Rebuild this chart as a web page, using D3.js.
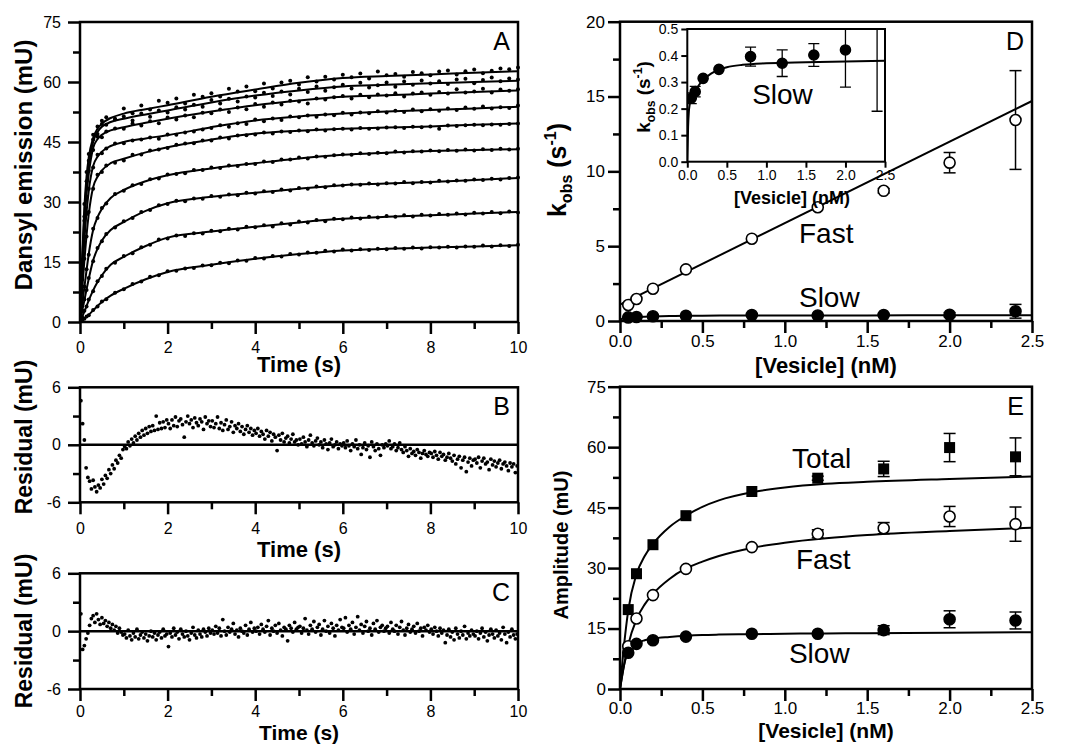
<!DOCTYPE html>
<html>
<head>
<meta charset="utf-8">
<script src="https://cdn.jsdelivr.net/npm/d3@7"></script>
<style>
  body { margin: 0; background: #fff; }
  svg { display: block; }
  text { font-family: "Liberation Sans", Arial, Helvetica, sans-serif; }
</style>
</head>
<body>
<script>
// ---- Panel A: dansyl emission traces (fit curves + data points) ----
const fitTimes = [0, 0.05, 0.1, 0.15, 0.2, 0.3, 0.4, 0.5, 0.7, 1, 1.5, 2, 3, 4, 5, 6, 7, 8, 9, 10];
const fit1 = [0, 16, 28.7, 36.5, 41.2, 46, 48.3, 49.6, 51, 52.1, 53.2, 54.2, 56.3, 58.1, 59.8, 61, 61.5, 61.9, 62.3, 62.7];
const fit2 = [0, 15, 27, 34.5, 39.5, 45, 47.5, 48.8, 50, 50.8, 51.9, 52.9, 54.9, 56.6, 57.9, 58.9, 59.3, 59.7, 60, 60.3];
const fit3 = [0, 13.5, 24.6, 32, 37, 43.5, 45.7, 46.8, 47.9, 48.7, 49.8, 50.8, 52.6, 54.2, 55.4, 56.3, 56.7, 57.1, 57.5, 57.9];
const fit4 = [0, 11, 20.4, 27.5, 32.8, 39, 41.3, 42.6, 44, 45, 45.9, 46.7, 48.7, 50.4, 51.4, 52.1, 52.6, 53, 53.4, 53.8];
const fit5 = [0, 8, 15.4, 21.8, 27, 33.7, 36.3, 37.9, 39.7, 40.8, 42.4, 43.7, 45.6, 47.1, 47.8, 48.3, 48.6, 48.9, 49.3, 49.6];
const fit6 = [0, 4.5, 8.7, 13, 17, 23, 26.2, 28.3, 31, 33, 35.2, 36.7, 38.4, 39.7, 40.9, 41.8, 42.3, 42.75, 43, 43.2];
const fit7 = [0, 2.8, 5.4, 8.2, 10.8, 15.4, 18.3, 20.4, 23, 25, 27.8, 29.7, 31.3, 32.3, 33.3, 34.2, 34.6, 35, 35.5, 36];
const fit8 = [0, 1.3, 2.6, 4, 5.4, 7.9, 10, 11.7, 14.3, 16.3, 19, 21.1, 22.6, 23.8, 24.9, 25.8, 26.3, 26.7, 27.1, 27.5];
const fit9 = [0, 0.4, 0.9, 1.3, 1.8, 2.9, 4, 5, 6.6, 8.3, 10.7, 12.5, 14.3, 15.8, 17, 17.9, 18.3, 18.6, 18.9, 19.2];

const dotTimes = [0.05, 0.1, 0.15, 0.2, 0.3, 0.4, 0.5,
  0.6, 0.8, 1.0, 1.2, 1.4, 1.6, 1.8, 2.0,
  2.2, 2.4, 2.6, 2.8, 3.0, 3.2, 3.4, 3.6,
  3.8, 4.0, 4.2, 4.4, 4.6, 4.8, 5.0, 5.2,
  5.4, 5.6, 5.8, 6.0, 6.2, 6.4, 6.6, 6.8,
  7.0, 7.2, 7.4, 7.6, 7.8, 8.0, 8.2, 8.4,
  8.6, 8.8, 9.0, 9.2, 9.4, 9.6, 9.8, 10.0];
const dots1 = [15.5, 29.5, 37.5, 42, 46.8, 48.9, 50.3,
  51.2, 50.8, 53.4, 52.2, 54.1, 53.1, 55.3, 54.8,
  55.9, 54.6, 56.8, 56.3, 57.2, 56.4, 58.3, 57.6,
  58.9, 57.7, 59.6, 58.4, 59.9, 60.3, 59.4, 61.2,
  60.1, 61.3, 60.6, 61.8, 61.2, 62.1, 60.9, 62.6,
  61.7, 62.0, 61.3, 62.5, 62.2, 61.7, 62.6, 62.9,
  61.9, 62.7, 63.1, 62.2, 62.8, 63.4, 63.2, 63.6];
const dots2 = [14.2, 26.4, 35.2, 40.3, 45.6, 47, 49.5,
  49.3, 50.6, 51.4, 50.4, 52.1, 51.3, 52.9, 52.4,
  53.7, 53.1, 54.3, 53.8, 55.5, 54.6, 55.8, 55.1,
  56.4, 56.1, 57.3, 56.5, 57.6, 56.9, 58.3, 57.5,
  58.9, 57.8, 58.7, 59.3, 58.4, 59.8, 58.6, 59.2,
  59.9, 58.8, 60.1, 59.3, 60.4, 59.6, 60.2, 59.5,
  60.6, 60.8, 59.7, 60.5, 61.1, 60.2, 60.9, 60.6];
const dots3 = [13, 25.3, 31.4, 37.8, 43, 46.3, 46.2,
  47.6, 48.4, 48.3, 49.6, 49.1, 50.2, 49.7, 51.1,
  50.6, 51.6, 51.2, 52.3, 52.2, 53.1, 52.5, 53.6,
  53.2, 54.5, 53.8, 54.9, 54.4, 55.3, 55.1, 54.6,
  55.9, 55.6, 56.2, 56.5, 55.9, 56.8, 56.2, 56.9,
  56.6, 57.2, 56.4, 57.1, 57.4, 56.8, 57.5, 57.1,
  58.2, 57.4, 57.6, 58.3, 57.4, 58.1, 57.8, 58.2];
const dots4 = [10.6, 21, 27, 33.3, 38.6, 41.8, 42.2,
  43.4, 44.6, 44.7, 45.4, 45.6, 46.1, 45.8, 46.9,
  46.8, 47.4, 47.6, 48.1, 48.5, 49.2, 48.8, 49.7,
  49.5, 50.6, 50.2, 50.9, 50.5, 51.4, 51.2, 51.6,
  51.3, 51.9, 51.7, 52.3, 51.9, 52.4, 52.2, 52.7,
  52.4, 52.8, 52.5, 53.1, 52.7, 53.2, 52.8, 53.4,
  53.0, 53.6, 53.3, 53.9, 53.4, 53.7, 53.5, 54.1];
const dots5 = [7.6, 15.8, 21.4, 27.5, 33.3, 36.8, 37.5,
  39.1, 39.8, 40.4, 41.8, 41.9, 42.9, 43.1, 43.5,
  44.3, 44.6, 44.7, 45.4, 45.4, 46.1, 45.9, 46.6,
  46.7, 46.9, 47.4, 47.1, 47.6, 47.5, 47.9, 47.7,
  48.1, 47.9, 48.2, 48.3, 48.1, 48.5, 48.3, 48.4,
  48.6, 48.7, 48.5, 48.8, 48.7, 48.9, 48.3, 49.1,
  49.0, 49.2, 49.3, 49.2, 49.4, 49.3, 49.5, 49.6];
const dots6 = [4.3, 8.9, 13.2, 16.8, 23.3, 26, 28.5,
  29.6, 32, 32.8, 34.2, 34.5, 35.7, 35.9, 36.9,
  37, 37.2, 38, 38, 38.6, 38.5, 39.1, 39,
  39.5, 39.5, 40.1, 40, 40.6, 40.6, 41.1, 40.9,
  41.4, 41.3, 41.7, 41.9, 41.8, 42.2, 42, 42.3,
  42.2, 42.6, 42.4, 42.7, 42.6, 42.9, 42.7, 43,
  42.8, 43.1, 42.9, 43.2, 43, 43.3, 43.1, 43.3];
const dots7 = [2.6, 5.6, 8, 11, 15.2, 18.5, 20.2,
  22, 23.6, 25.2, 26, 27.5, 28, 29.2, 29.5,
  30.3, 30.2, 30.9, 30.8, 31.5, 31.3, 31.9, 31.7,
  32.3, 32.1, 32.7, 32.5, 33.1, 32.9, 33.5, 33.3,
  33.9, 33.7, 34.2, 34.1, 34.4, 34.3, 34.6, 34.4,
  34.7, 34.6, 35, 34.7, 35, 34.9, 35.3, 35.1,
  35.4, 35.3, 35.6, 35.5, 35.8, 35.6, 36, 36.1];
const dots8 = [1.2, 2.8, 3.9, 5.6, 7.7, 10.2, 11.5,
  13.3, 14.8, 16.5, 17.2, 18.7, 19.3, 20.6, 20.9,
  21.6, 21.5, 22.2, 22.1, 22.8, 22.7, 23.3, 23.1,
  23.8, 23.7, 24.2, 23.9, 24.7, 24.4, 25.1, 24.9,
  25.5, 25.2, 25.8, 25.7, 26.1, 25.9, 26.3, 26.1,
  26.5, 26.3, 26.7, 26.4, 26.8, 26.6, 27, 26.8,
  27.1, 26.9, 27.3, 27.1, 27.5, 27.2, 27.6, 27.4];
const dots9 = [0.5, 0.8, 1.4, 1.7, 3, 3.9, 5.1,
  5.7, 7.3, 8.2, 9.5, 10.1, 11.3, 11.7, 12.7,
  12.8, 13.4, 13.5, 14.1, 14.2, 14.8, 14.7, 15.4,
  15.3, 16, 15.9, 16.5, 16.4, 17, 16.9, 17.4,
  17.3, 17.8, 17.6, 18.1, 17.9, 18.2, 18, 18.3,
  18.2, 18.5, 18.3, 18.6, 18.4, 18.7, 18.6, 18.8,
  18.6, 18.9, 18.8, 19.1, 18.9, 19.2, 19, 19.3];

// ---- Panels B and C: residuals, one row per second, sampled every 0.04 s ----
const residStep = 0.04;
const residB = [
  [4.6, 2.2, 0.5, -2.4, -3.4, -3.8, -4.6, -3.7, -4.4, -4.9, -4.2, -4.5, -3.6, -4.1, -3.2, -3.5, -2.6, -3.0, -2.1, -2.5, -1.6, -1.9, -1.1, -1.4, -0.5],
  [-0.2, -0.4, 0.3, -0.1, 0.6, 0.2, 0.9, 0.5, 1.2, 0.8, 1.5, 1.0, 1.7, 1.2, 1.9, 1.4, 2.0, 1.5, 3.0, 1.6, 2.3, 1.7, 2.4, 1.8, 2.6],
  [2.2, 1.7, 2.6, 2.0, 2.9, 1.9, 2.5, 2.7, 2.1, 0.8, 2.4, 3.0, 2.2, 2.6, 1.8, 2.8, 2.3, 2.0, 2.7, 2.4, 1.6, 2.9, 2.2, 2.5, 1.9],
  [2.5, 1.8, 2.2, 2.9, 1.7, 2.3, 1.5, 2.1, 2.6, 1.6, 1.9, 2.4, 1.3, 2.0, 1.7, 2.2, 1.4, 1.9, 1.1, 1.6, 2.0, 1.3, 1.7, 1.0, 1.5],
  [1.2, 1.7, 0.9, 1.4, 1.1, 0.6, 1.5, 0.9, 1.3, 0.4, 1.1, 0.8, -0.6, 1.0, 0.5, 1.2, 0.3, 0.7, 0.9, 0.2, 0.6, 1.1, 0.3, 0.5, 0.0],
  [0.6, 0.1, 0.8, 0.3, -0.2, 0.5, 1.0, 0.2, -0.1, 0.4, 0.7, 0.0, 0.3, -0.3, 0.5, 0.1, -0.5, 0.2, 0.6, -0.2, 0.0, 0.3, -0.4, 0.1, -0.1],
  [0.2, -0.3, 0.4, -0.1, -0.6, 0.1, -0.2, 0.5, -0.4, 0.0, -1.0, -0.3, 0.2, -0.5, -0.1, -1.3, 0.3, -0.2, -0.6, 0.1, -0.4, -1.1, 0.0, -0.3, 0.1],
  [-0.1, 0.4, -0.4, -0.2, 0.1, -0.6, -0.3, 0.2, -0.5, -0.8, -0.2, -0.6, -1.2, -0.4, -0.9, -0.7, -1.1, -0.5, -0.8, -1.4, -0.9, -0.6, -1.0, -1.2, -0.8],
  [-0.9, -1.3, -0.7, -1.1, -1.5, -0.8, -1.2, -1.0, -1.6, -1.3, -0.9, -1.4, -1.7, -1.1, -2.0, -1.5, -1.2, -2.4, -1.6, -1.3, -2.8, -1.8, -1.4, -2.2, -1.6],
  [-1.5, -1.9, -1.3, -2.4, -1.7, -1.4, -2.0, -1.8, -2.6, -1.5, -2.1, -1.7, -2.3, -1.9, -1.6, -2.5, -2.0, -1.8, -2.2, -2.7, -1.9, -2.3, -2.0, -2.9, -2.2]
];
const residC = [
  [1.8, -1.9, -1.5, -0.8, -0.2, 0.6, 1.3, 1.6, 0.9, 1.8, 1.2, 0.7, 1.4, 0.8, 1.1, 0.5, 0.9, 0.3, 0.7, 0.1, 0.5, -0.2, 0.3, -0.1, -0.4],
  [-0.3, -0.7, 0.1, -0.5, -0.9, -0.2, -0.6, 0.2, -0.8, -0.4, -0.1, -0.7, -0.3, -1.0, -0.5, 0.0, -0.6, -0.2, -0.9, -0.4, -0.1, -0.7, 0.2, -0.5, -0.3],
  [-1.6, -0.2, -0.6, 0.3, -0.4, -0.1, -0.8, 0.2, -0.3, -0.6, 0.0, -0.5, -0.9, -0.2, 0.4, -0.4, -0.7, 0.1, -0.3, -0.6, 0.2, -0.1, -0.5, 0.3, -0.2],
  [0.1, -0.3, 0.5, -0.2, 0.3, -0.5, 1.2, 0.0, -0.4, 0.4, -0.1, 0.2, 0.8, -0.3, 0.1, -0.6, 0.3, 0.0, -0.2, 0.6, -0.4, 0.2, 0.9, -0.1, 0.3],
  [0.0, 0.4, -0.3, 0.7, 0.2, -0.1, 0.5, 1.1, -0.4, 0.3, 0.0, 0.6, -0.2, 0.8, 0.1, -0.5, 0.4, 0.2, -1.0, 0.6, 0.3, -0.1, 0.9, 0.2, 0.4],
  [0.5, -0.2, 0.3, 1.3, 0.1, -0.3, 0.6, 0.2, 1.0, -0.1, 0.4, 0.7, -0.4, 0.2, 1.1, 0.0, 0.5, -0.2, 0.8, 0.3, -0.5, 0.6, 0.1, 1.2, 0.4],
  [0.3, 1.4, -0.1, 0.6, 0.2, 0.9, -0.3, 0.4, 1.5, 0.1, 0.7, -0.2, 0.5, 1.0, 0.0, 0.3, -0.4, 0.8, 0.2, 1.1, -0.1, 0.4, 0.6, 0.0, 0.3],
  [0.5, -0.2, 0.9, 0.2, 0.0, 0.6, -0.3, 0.4, 1.0, 0.1, -0.4, 0.3, 0.7, -0.1, 0.2, 0.5, -0.2, 0.8, 0.0, 0.3, -0.5, 0.4, 0.1, 0.6, -0.1],
  [0.2, -0.3, 0.4, 0.0, -0.5, 0.3, -0.2, 0.1, -1.2, -0.4, 0.2, -0.6, -0.1, -0.9, 0.3, -0.3, -0.7, 0.0, -0.4, 0.5, -0.8, -0.2, -0.5, 0.1, -0.3],
  [-0.5, 0.0, -0.8, -0.2, 0.3, -0.6, -0.1, -1.0, -0.4, 0.2, -0.3, -0.7, 0.1, -0.5, -0.2, -0.9, 0.4, -0.3, -1.2, -0.1, -0.6, 0.2, -0.4, -0.8, -0.3]
];

// ---- Panels D and E: rates and amplitudes vs vesicle concentration ----
const vesicle = [0.05, 0.1, 0.2, 0.4, 0.8, 1.2, 1.6, 2.0, 2.4];
const fastRate = [1.07, 1.47, 2.16, 3.45, 5.5, 7.6, 8.7, 10.58, 13.43];
const fastRateErr = [0, 0, 0, 0, 0, 0, 0.15, 0.68, 3.3];
const slowRate = [0.239, 0.264, 0.314, 0.348, 0.396, 0.371, 0.402, 0.421, 0.65];
const slowRateErr = [0.02, 0.02, 0, 0, 0.036, 0.05, 0.043, 0.14, 0.46];
const fastRateFitX = [0, 2.5];
const fastRateFit = [1.1, 14.7];
const slowRateFitX = [0, 0.01, 0.02, 0.03, 0.05, 0.1, 0.15, 0.2, 0.3, 0.4, 0.5, 0.7, 1.0, 1.5, 2.0, 2.5];
const slowRateFit = [0, 0.13, 0.19, 0.215, 0.238, 0.265, 0.29, 0.308, 0.332, 0.347, 0.356, 0.365, 0.371, 0.375, 0.378, 0.38];

const totalAmp = [19.7, 28.6, 35.8, 43, 49, 52.3, 54.6, 59.9, 57.6];
const totalAmpErr = [0, 0, 0, 0, 0, 0.5, 1.9, 3.5, 4.7];
const fastAmp = [10.6, 17.5, 23.3, 29.8, 35.2, 38.5, 39.9, 42.8, 40.9];
const fastAmpErr = [0, 0, 0, 0, 0, 1.0, 1.4, 2.5, 4.25];
const slowAmp = [9, 11.2, 12.1, 13, 13.7, 13.7, 14.6, 17.3, 17];
const slowAmpErr = [0, 0, 0, 0, 0, 0, 1.1, 2.1, 2.1];
const ampFitX = [0, 0.025, 0.05, 0.1, 0.15, 0.2, 0.3, 0.4, 0.5, 0.6, 0.8, 1.0, 1.25, 1.5, 2.0, 2.5];
const totalFit = [0, 11, 19.5, 28.5, 33, 36, 40.2, 43, 45.2, 46.8, 48.8, 50, 50.9, 51.4, 52.1, 52.7];
const fastFit = [0, 6, 11, 17.3, 21, 23.6, 27.3, 29.9, 31.6, 33, 35, 36.3, 37.4, 38.2, 39.2, 40];
const slowFit = [0, 6, 9.3, 11.3, 12.1, 12.5, 12.9, 13.2, 13.4, 13.5, 13.6, 13.7, 13.8, 13.85, 13.95, 14.1];

// tick values
const timeMajor = [0, 2, 4, 6, 8, 10];
const timeMinor = [1, 3, 5, 7, 9];
const emissionMajor = [0, 15, 30, 45, 60, 75];
const emissionMinor = [7.5, 22.5, 37.5, 52.5, 67.5];
const residMajor = [-6, 0, 6];
const residMinor = [-3, 3];
const concMajor = [0, 0.5, 1, 1.5, 2, 2.5];
const concMinor = [0.25, 0.75, 1.25, 1.75, 2.25];
const rateMajor = [0, 5, 10, 15, 20];
const rateMinor = [2.5, 7.5, 12.5, 17.5];
const insetRateMajor = [0, 0.1, 0.2, 0.3, 0.4, 0.5];

const svg = d3.select("body").append("svg")
  .attr("xmlns", "http://www.w3.org/2000/svg")
  .attr("width", 1075)
  .attr("height", 744);

svg.append("rect").attr("width", "100%").attr("height", "100%").attr("fill", "white");

const plain = d => String(d);
const oneDec = d3.format(".1f");

function axes(g, x, y, o) {
  const [xl, xr] = x.range();
  const [yb, yt] = y.range();
  const bottom = g.append("g").attr("transform", "translate(0," + yb + ")");
  if (o.xMinor) {
    bottom.append("g").call(d3.axisBottom(x).tickValues(o.xMinor).tickSize(o.minor).tickFormat(""));
  }
  bottom.append("g").call(d3.axisBottom(x).tickValues(o.xMajor).tickSize(o.major)
    .tickPadding(o.xPad).tickFormat(o.xFmt));
  const left = g.append("g").attr("transform", "translate(" + xl + ",0)");
  if (o.yMinor) {
    left.append("g").call(d3.axisLeft(y).tickValues(o.yMinor).tickSize(o.minor).tickFormat(""));
  }
  left.append("g").call(d3.axisLeft(y).tickValues(o.yMajor).tickSize(o.major)
    .tickPadding(o.yPad).tickFormat(o.yFmt));
  [bottom, left].forEach(a => {
    a.selectAll(".domain").remove();
    a.selectAll("line").attr("stroke", "#000").attr("stroke-width", o.sw);
    a.selectAll("g").attr("font-size", o.fs).attr("font-family", null);
    a.selectAll("text").attr("fill", "#000");
  });
  g.append("rect")
    .attr("x", xl).attr("y", yt)
    .attr("width", xr - xl).attr("height", yb - yt)
    .attr("fill", "none").attr("stroke", "#000").attr("stroke-width", o.sw);
}

function fitLine(x, y) {
  return d3.line().x(d => x(d[0])).y(d => y(d[1])).curve(d3.curveMonotoneX);
}

function title(g, text, px, py, size, rotate) {
  return g.append("text")
    .attr("transform", "translate(" + px + "," + py + ")" + (rotate ? " rotate(-90)" : ""))
    .attr("text-anchor", "middle")
    .attr("font-weight", "bold")
    .attr("font-size", size)
    .text(text);
}

function kobsTitle(g, px, py, size) {
  const t = g.append("text")
    .attr("transform", "translate(" + px + "," + py + ") rotate(-90)")
    .attr("text-anchor", "middle")
    .attr("font-weight", "bold")
    .attr("font-size", size);
  t.append("tspan").text("k");
  t.append("tspan").attr("font-size", size * 0.64).attr("dy", size * 0.24).text("obs");
  t.append("tspan").attr("dy", -size * 0.24).text(" (s");
  t.append("tspan").attr("font-size", size * 0.64).attr("dy", -size * 0.4).text("-1");
  t.append("tspan").attr("dy", size * 0.4).text(")");
}

function letter(g, text, x, y) {
  const [, xr] = x.range();
  const [, yt] = y.range();
  g.append("text")
    .attr("x", xr - 8).attr("y", yt + 28)
    .attr("text-anchor", "end")
    .attr("font-size", 25)
    .text(text);
}

function errorBars(g, x, y, xs, vs, es, cap, sw) {
  const d = d3.zip(xs, vs, es).filter(p => p[2] > 0);
  const bars = g.append("g").attr("stroke", "#000").attr("stroke-width", sw);
  bars.selectAll(null).data(d).join("line")
    .attr("x1", p => x(p[0])).attr("x2", p => x(p[0]))
    .attr("y1", p => y(p[1] - p[2])).attr("y2", p => y(p[1] + p[2]));
  [-1, 1].forEach(s => {
    bars.selectAll(null).data(d).join("line")
      .attr("x1", p => x(p[0]) - cap / 2).attr("x2", p => x(p[0]) + cap / 2)
      .attr("y1", p => y(p[1] + s * p[2])).attr("y2", p => y(p[1] + s * p[2]));
  });
}

function circles(g, x, y, xs, vs, r, open) {
  g.append("g").selectAll(null).data(d3.zip(xs, vs)).join("circle")
    .attr("cx", p => x(p[0])).attr("cy", p => y(p[1])).attr("r", r)
    .attr("fill", open ? "#fff" : "#000")
    .attr("stroke", "#000").attr("stroke-width", 1.6);
}

function squares(g, x, y, xs, vs, s) {
  g.append("g").selectAll(null).data(d3.zip(xs, vs)).join("rect")
    .attr("x", p => x(p[0]) - s / 2).attr("y", p => y(p[1]) - s / 2)
    .attr("width", s).attr("height", s).attr("fill", "#000");
}

function label(g, text, x, y, px, py) {
  g.append("text").attr("x", x(px)).attr("y", y(py)).attr("font-size", 28).text(text);
}

// ================= Panel A =================
const xA = d3.scaleLinear().domain([0, 10]).range([80, 518]);
const yA = d3.scaleLinear().domain([0, 75]).range([322, 22]);
const gA = svg.append("g");
const traces = [[fit1, dots1], [fit2, dots2], [fit3, dots3], [fit4, dots4], [fit5, dots5],
  [fit6, dots6], [fit7, dots7], [fit8, dots8], [fit9, dots9]];
traces.forEach(([fit, dots]) => {
  gA.append("path")
    .datum(d3.zip(fitTimes, fit))
    .attr("fill", "none").attr("stroke", "#000").attr("stroke-width", 2)
    .attr("d", fitLine(xA, yA));
  gA.append("g").selectAll(null).data(d3.zip(dotTimes, dots)).join("circle")
    .attr("cx", d => xA(d[0])).attr("cy", d => yA(d[1])).attr("r", 2).attr("fill", "#000");
});
axes(gA, xA, yA, { xMajor: timeMajor, xMinor: timeMinor, yMajor: emissionMajor, yMinor: emissionMinor,
  xFmt: plain, yFmt: plain, major: 12, minor: 7, xPad: 8, yPad: 7, sw: 2.5, fs: 16 });
letter(gA, "A", xA, yA);
title(gA, "Time (s)", 299, 372, 22, false);
title(gA, "Dansyl emission (mU)", 32, 165, 24, true);

// ================= Panels B, C =================
function residPanel(rows, y0, y1, name, titleY, yTitleY, xPad, titleSize) {
  const x = d3.scaleLinear().domain([0, 10]).range([80, 518]);
  const y = d3.scaleLinear().domain([-6, 6]).range([y0, y1]);
  const g = svg.append("g");
  const pts = rows.flatMap((row, s) => row.map((v, k) => [s + residStep * (k + 0.5), v]));
  g.append("line")
    .attr("x1", x(0)).attr("x2", x(10)).attr("y1", y(0)).attr("y2", y(0))
    .attr("stroke", "#000").attr("stroke-width", 2.5);
  g.append("g").selectAll(null).data(pts).join("circle")
    .attr("cx", d => x(d[0])).attr("cy", d => y(d[1])).attr("r", 1.9).attr("fill", "#000");
  axes(g, x, y, { xMajor: timeMajor, xMinor: timeMinor, yMajor: residMajor, yMinor: residMinor,
    xFmt: plain, yFmt: plain, major: 12, minor: 7, xPad: xPad, yPad: 7, sw: 2.5, fs: 16 });
  letter(g, name, x, y);
  title(g, "Time (s)", 299, titleY, titleSize, false);
  title(g, "Residual (mU)", 32, yTitleY, 23, true);
}
residPanel(residB, 502.3, 387.3, "B", 557, 437, 8, 22);
residPanel(residC, 689, 573.3, "C", 740, 631, 5, 21);

// ================= Panel D =================
const xD = d3.scaleLinear().domain([0, 2.5]).range([620, 1032]);
const yD = d3.scaleLinear().domain([0, 20]).range([321, 21.7]);
const gD = svg.append("g");
gD.append("path").datum(d3.zip(fastRateFitX, fastRateFit))
  .attr("fill", "none").attr("stroke", "#000").attr("stroke-width", 2).attr("d", fitLine(xD, yD));
gD.append("path").datum(d3.zip(slowRateFitX, slowRateFit))
  .attr("fill", "none").attr("stroke", "#000").attr("stroke-width", 2).attr("d", fitLine(xD, yD));
errorBars(gD, xD, yD, vesicle, fastRate, fastRateErr, 12, 1.5);
errorBars(gD, xD, yD, vesicle, slowRate, slowRateErr, 12, 1.5);
circles(gD, xD, yD, vesicle, fastRate, 5.5, true);
circles(gD, xD, yD, vesicle, slowRate, 5.5, false);
axes(gD, xD, yD, { xMajor: concMajor, xMinor: concMinor, yMajor: rateMajor, yMinor: rateMinor,
  xFmt: oneDec, yFmt: plain, major: 12, minor: 7, xPad: 2, yPad: 3, sw: 2.5, fs: 17 });
letter(gD, "D", xD, yD);
label(gD, "Fast", xD, yD, 1.086, 5.2);
label(gD, "Slow", xD, yD, 1.086, 0.94);
title(gD, "[Vesicle] (nM)", 826, 373, 22, false);
kobsTitle(gD, 566, 170, 25);

// inset
const xI = d3.scaleLinear().domain([0, 2.5]).range([687.3, 885]);
const yI = d3.scaleLinear().domain([0, 0.5]).range([161.7, 29]);
const gI = svg.append("g");
gI.append("rect").attr("x", 687.3).attr("y", 29).attr("width", 885 - 687.3).attr("height", 161.7 - 29)
  .attr("fill", "#fff");
svg.append("defs").append("clipPath").attr("id", "insetClip")
  .append("rect").attr("x", 687.3).attr("y", 29).attr("width", 885 - 687.3).attr("height", 161.7 - 29);
const gIc = gI.append("g").attr("clip-path", "url(#insetClip)");
gIc.append("path").datum(d3.zip(slowRateFitX, slowRateFit))
  .attr("fill", "none").attr("stroke", "#000").attr("stroke-width", 2).attr("d", fitLine(xI, yI));
errorBars(gIc, xI, yI, vesicle, slowRate, slowRateErr, 11, 1.3);
circles(gIc, xI, yI, vesicle, slowRate, 5, false);
axes(gI, xI, yI, { xMajor: concMajor, yMajor: insetRateMajor,
  xFmt: oneDec, yFmt: oneDec, major: 6, minor: 0, xPad: 2, yPad: 3, sw: 2, fs: 14 });
label(gI, "Slow", xI, yI, 0.82, 0.217);
title(gI, "[Vesicle]  (nM)", 792, 204, 18, false);
kobsTitle(gI, 650, 97, 19);

// ================= Panel E =================
const xE = d3.scaleLinear().domain([0, 2.5]).range([620, 1032]);
const yE = d3.scaleLinear().domain([0, 75]).range([689, 386.7]);
const gE = svg.append("g");
[totalFit, fastFit, slowFit].forEach(f => {
  gE.append("path").datum(d3.zip(ampFitX, f))
    .attr("fill", "none").attr("stroke", "#000").attr("stroke-width", 2).attr("d", fitLine(xE, yE));
});
errorBars(gE, xE, yE, vesicle, totalAmp, totalAmpErr, 12, 1.5);
errorBars(gE, xE, yE, vesicle, fastAmp, fastAmpErr, 12, 1.5);
errorBars(gE, xE, yE, vesicle, slowAmp, slowAmpErr, 12, 1.5);
squares(gE, xE, yE, vesicle, totalAmp, 11);
circles(gE, xE, yE, vesicle, fastAmp, 5.5, true);
circles(gE, xE, yE, vesicle, slowAmp, 5.5, false);
axes(gE, xE, yE, { xMajor: concMajor, xMinor: concMinor, yMajor: emissionMajor, yMinor: emissionMinor,
  xFmt: oneDec, yFmt: plain, major: 12, minor: 7, xPad: 1, yPad: 2, sw: 2.5, fs: 17 });
letter(gE, "E", xE, yE);
label(gE, "Total", xE, yE, 1.044, 54.8);
label(gE, "Fast", xE, yE, 1.068, 29.8);
label(gE, "Slow", xE, yE, 1.025, 6.45);
title(gE, "[Vesicle] (nM)", 826, 738, 21, false);
title(gE, "Amplitude (mU)", 568, 545, 20, true);
</script>
</body>
</html>
